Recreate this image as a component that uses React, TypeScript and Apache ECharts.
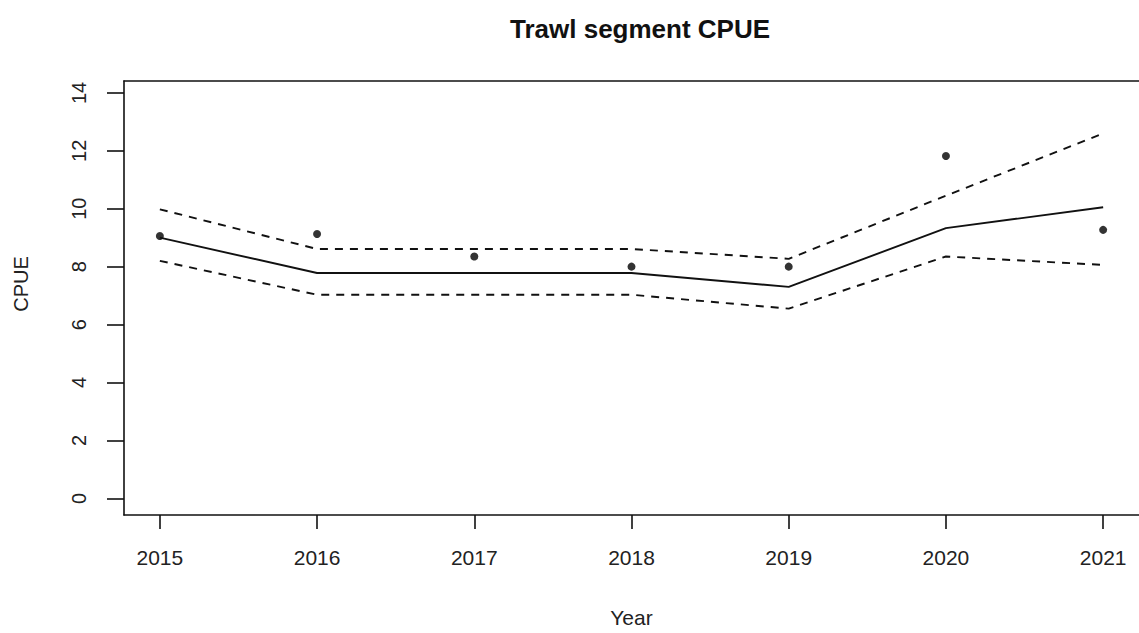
import React, { useEffect, useRef } from "react";
import * as echarts from "echarts";

const years = [2015, 2016, 2017, 2018, 2019, 2020, 2021];
const observed = [9.06, 9.13, 8.35, 8.0, 8.0, 11.82, 9.27];
const fitted = [9.0, 7.78, 7.78, 7.78, 7.3, 9.33, 10.05];
const upper = [9.98, 8.61, 8.61, 8.61, 8.27, 10.45, 12.6];
const lower = [8.2, 7.03, 7.03, 7.03, 6.55, 8.35, 8.06];
const yTicks = [0, 2, 4, 6, 8, 10, 12, 14];

const FONT = "'Liberation Sans', Arial, sans-serif";

export default function App() {
  const ref = useRef<HTMLDivElement>(null);
  useEffect(() => {
    if (!ref.current) return;
    const chart = echarts.init(ref.current, undefined, { renderer: "svg" });
    const pair = (arr: number[]) => years.map((y, i) => [y, arr[i]]);
    chart.setOption({
      animation: false,
      backgroundColor: "#ffffff",
      title: {
        text: "Trawl segment CPUE",
        left: 635,
        top: 11,
        textAlign: "center",
        textStyle: { fontFamily: FONT, fontWeight: "bold", fontSize: 26, color: "#111" },
      },
      grid: { left: 124, top: 81, right: -4, bottom: 117, containLabel: false },
      xAxis: [
        {
          type: "value",
          min: 2014.772,
          max: 2021.228,
          name: "Year",
          nameLocation: "middle",
          nameGap: 92,
          nameTextStyle: { fontFamily: FONT, fontSize: 21, color: "#222" },
          axisLine: { show: true, onZero: false, lineStyle: { color: "#111", width: 1.6 } },
          axisTick: {
            show: true,
            length: 14,
            customValues: years,
            lineStyle: { color: "#111", width: 1.6 },
          },
          axisLabel: {
            customValues: years,
            margin: 32,
            fontFamily: FONT,
            fontSize: 21,
            color: "#222",
            formatter: (v: number) => String(v),
          },
          splitLine: { show: false },
        },
        {
          type: "value",
          position: "top",
          min: 2014.772,
          max: 2021.228,
          axisLine: { show: true, onZero: false, lineStyle: { color: "#111", width: 1.6 } },
          axisTick: { show: false },
          axisLabel: { show: false },
          splitLine: { show: false },
        },
      ],
      yAxis: {
        type: "value",
        min: -0.575,
        max: 14.41,
        name: "CPUE",
        nameLocation: "middle",
        nameRotate: 90,
        nameGap: 93,
        nameTextStyle: { fontFamily: FONT, fontSize: 20, color: "#222", padding: [0, 0, 0, 28] },
        axisLine: { show: true, onZero: false, lineStyle: { color: "#111", width: 1.6 } },
        axisTick: {
          show: true,
          length: 17,
          customValues: yTicks,
          lineStyle: { color: "#111", width: 1.6 },
        },
        axisLabel: {
          customValues: yTicks,
          rotate: 90,
          margin: 35,
          fontFamily: FONT,
          fontSize: 20,
          color: "#222",
        },
        splitLine: { show: false },
      },
      series: [
        {
          type: "line",
          data: pair(fitted),
          showSymbol: false,
          lineStyle: { color: "#111", width: 1.9, type: "solid" },
        },
        {
          type: "line",
          data: pair(upper),
          showSymbol: false,
          lineStyle: { color: "#111", width: 1.9, type: [8, 7] },
        },
        {
          type: "line",
          data: pair(lower),
          showSymbol: false,
          lineStyle: { color: "#111", width: 1.9, type: [8, 7] },
        },
        {
          type: "scatter",
          data: pair(observed),
          symbol: "circle",
          symbolSize: 8,
          itemStyle: { color: "#000" },
        },
      ],
    });
    return () => chart.dispose();
  }, []);
  return (
    <div
      ref={ref}
      style={{ position: "fixed", left: 0, top: 0, width: 1139, height: 633, background: "#fff" }}
    />
  );
}
